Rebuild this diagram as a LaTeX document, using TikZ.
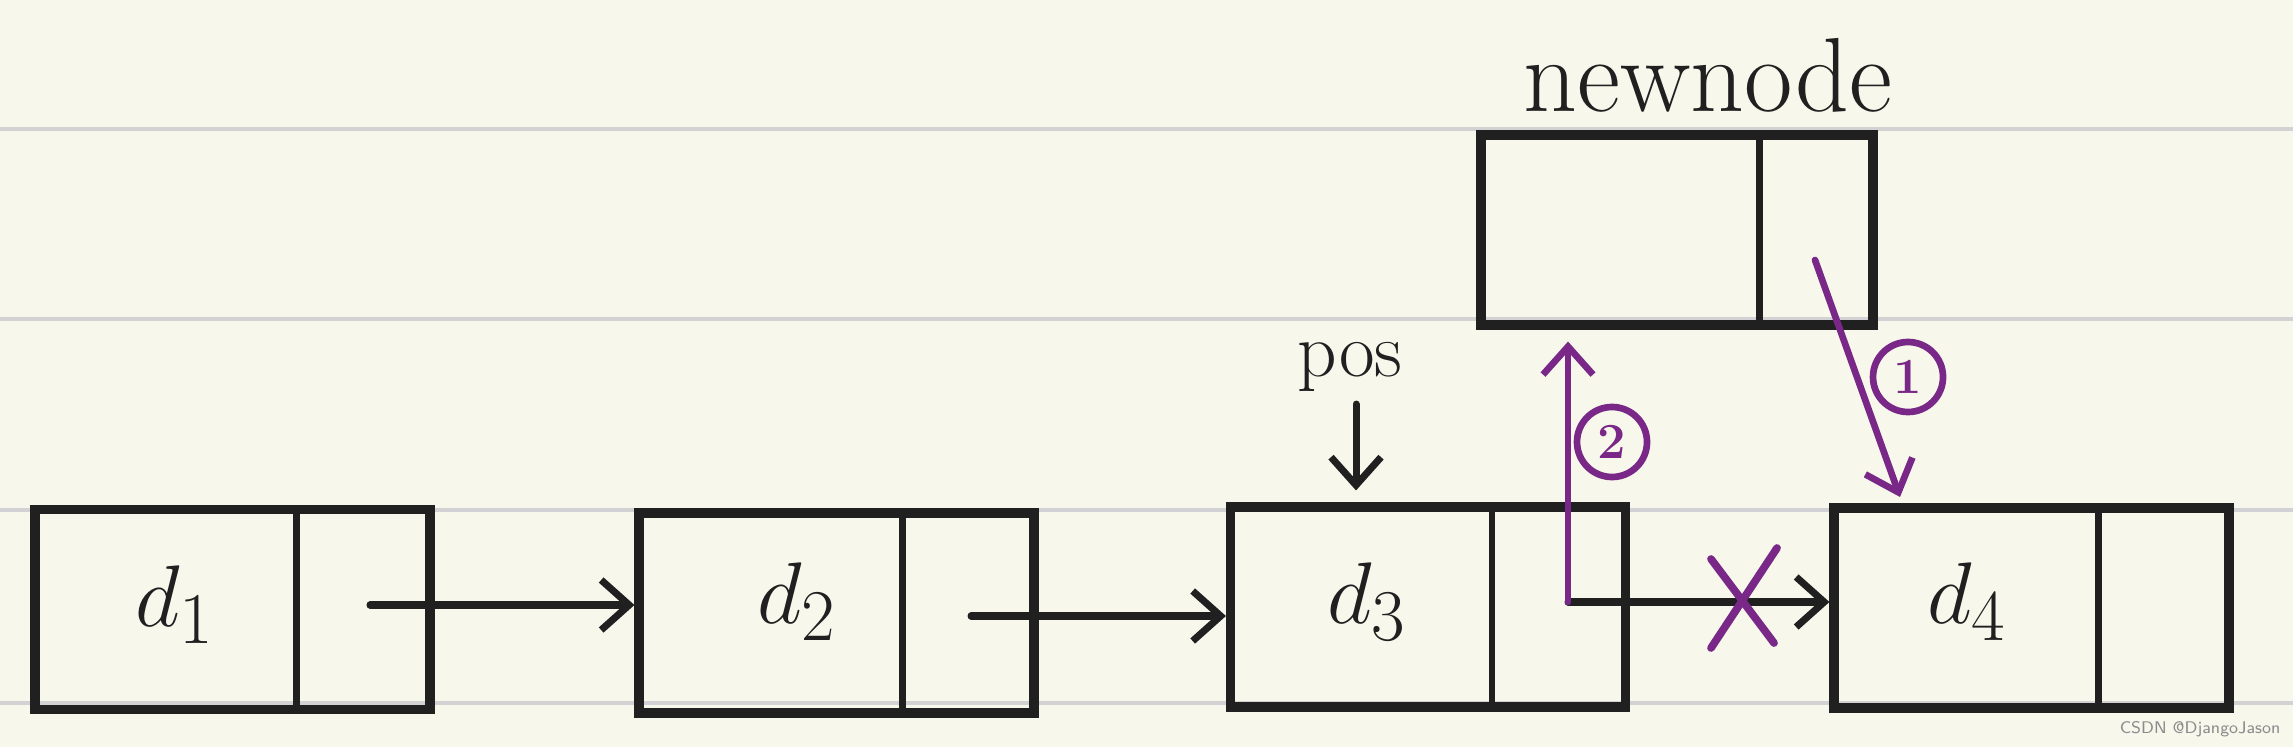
\documentclass[tikz,border=0pt]{standalone}
\usepackage{tikz}
\usetikzlibrary{arrows.meta,calc,positioning}

\definecolor{paper}{RGB}{247,247,236}
\definecolor{rule}{RGB}{210,210,212}
\definecolor{ink}{RGB}{32,32,32}
\definecolor{plum}{RGB}{122,40,135}

\begin{document}
\begin{tikzpicture}[>={Straight Barb[length=2.8mm,width=5mm]},
  listbox/.style={draw=ink,line width=2.6pt,minimum width=3.95cm,minimum height=2cm,inner sep=0pt},
  link/.style={->,draw=ink,line width=2pt,line cap=round},
  redo/.style={->,draw=plum,line width=1.9pt,line cap=round},
  tag/.style={circle,draw=plum,line width=1.9pt,text=plum,inner sep=0pt,minimum size=7mm,font=\bfseries\Large},
  big/.style={font=\fontsize{30}{36}\selectfont,text=ink}]
\fill[paper] (0,0) rectangle (22.93,7.47);
\useasboundingbox (0,0) rectangle (22.93,7.47);
\foreach \y in {6.18,4.28,2.37,0.44}
  \draw[rule,line width=1.3pt] (0,\y)--(22.93,\y);

% the list
\foreach \n/\x/\y/\w in {1/2.325/1.375/1.38,2/8.365/1.34/1.36,3/14.28/1.40/1.38,4/20.315/1.39/1.35}{
  \node[listbox] (b\n) at (\x,\y) {};
  \draw[ink,line width=1.9pt] ([xshift=-\w cm]b\n.north east)--([xshift=-\w cm]b\n.south east);
}
\node[big] (d1) at (1.75,1.42) {$d_1$};
\node[big] (d2) at (7.97,1.45) {$d_2$};
\node[big] (d3) at (13.67,1.45) {$d_3$};
\node[big] (d4) at (19.67,1.45) {$d_4$};

\coordinate (p1) at (3.70,1.42);
\coordinate (p2) at (9.71,1.31);
\coordinate (p3) at (15.68,1.45);
\draw[link] (p1)--(p1 -| b2.west);
\draw[link] (p2)--(p2 -| b3.west);
\draw[link] (p3)--(p3 -| b4.west);

% new node
\node[listbox,minimum width=3.92cm,minimum height=1.9cm] (bn) at (16.77,5.17) {};
\draw[ink,line width=1.9pt] ([xshift=-1.18cm]bn.north east)--([xshift=-1.18cm]bn.south east);
\node[big] (nn) at (17.08,6.72) {newnode};

\node[font=\fontsize{22}{26}\selectfont,text=ink] (pos) at (13.50,3.80) {pos};
\draw[link] ([xshift=0.06cm]pos.south)--([xshift=0.06cm]pos.south |- b3.north)
  [shorten >=0.12cm];

% steps
\coordinate (x0) at (17.43,1.45);
\draw[plum,line width=2.2pt,line cap=round] ($(x0)+(-0.32,-0.46)$)--($(x0)+(0.34,0.54)$)
  ($(x0)+(-0.32,0.43)$)--($(x0)+(0.31,-0.41)$);
\draw[redo,shorten >=0.12cm] (p3)--(p3 |- bn.south);
\node[tag] (s2) at (16.12,3.05) {2};
\coordinate (q1) at (18.15,4.87);
\coordinate (q2) at (19.00,2.50);
\draw[redo] (q1)--(q2);
\node[tag] (s1) at (19.08,3.70) {1};

\node[font=\fontsize{4.8}{6}\selectfont\sffamily,text=black!45] (wm) at (22.00,0.18) {CSDN @DjangoJason};
\end{tikzpicture}
\end{document}
